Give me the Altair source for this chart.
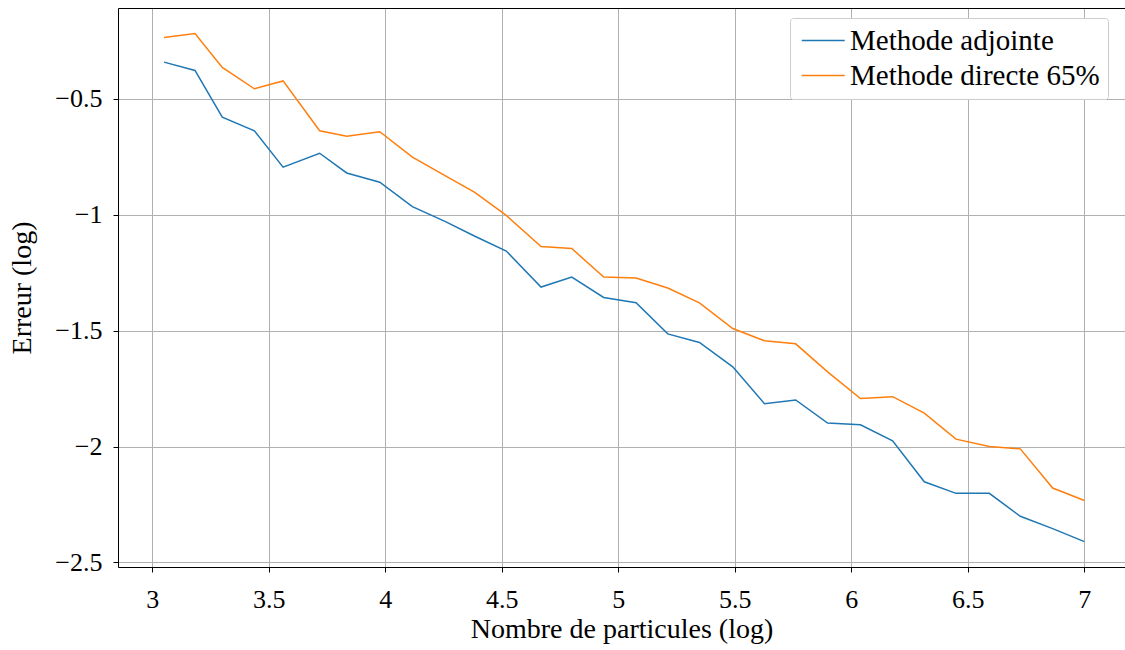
import altair as alt
import pandas as pd

x_vals = [3.050, 3.183, 3.300, 3.438, 3.561, 3.718, 3.834, 3.976, 4.116, 4.258,
          4.382, 4.519, 4.668, 4.800, 4.937, 5.076, 5.212, 5.348, 5.491, 5.627,
          5.761, 5.898, 6.039, 6.177, 6.313, 6.449, 6.592, 6.725, 6.864, 7.000]
adjointe = [-0.342, -0.378, -0.579, -0.638, -0.795, -0.735, -0.820, -0.860, -0.965, -1.030,
            -1.092, -1.157, -1.312, -1.269, -1.357, -1.380, -1.514, -1.551, -1.656, -1.815,
            -1.799, -1.899, -1.906, -1.975, -2.152, -2.202, -2.202, -2.301, -2.354, -2.410]
directe = [-0.236, -0.219, -0.365, -0.457, -0.423, -0.638, -0.662, -0.642, -0.752, -0.833,
           -0.903, -1.003, -1.137, -1.146, -1.269, -1.273, -1.316, -1.380, -1.491, -1.544,
           -1.557, -1.678, -1.793, -1.785, -1.856, -1.968, -2.000, -2.010, -2.179, -2.233]
series_names = ["Methode adjointe", "Methode directe 65%"]
series_colors = ["#1f77b4", "#ff7f0e"]
x_ticks = [3, 3.5, 4, 4.5, 5, 5.5, 6, 6.5, 7]
y_ticks = [-2.5, -2, -1.5, -1, -0.5]

rows = []
for i, xv in enumerate(x_vals):
    rows.append({"x": xv, "y": adjointe[i], "s": series_names[0], "o": i})
for i, xv in enumerate(x_vals):
    rows.append({"x": xv, "y": directe[i], "s": series_names[1], "o": i})
df = pd.DataFrame(rows)

W, H = 1007, 559
FONT = "Liberation Serif"
xscale = alt.Scale(domain=[2.8525, 2.8525 + W / 233.0], nice=False, zero=False)
yscale = alt.Scale(domain=[-2.5196, -0.1085], nice=False, zero=False)

lines = alt.Chart(df).mark_line(strokeWidth=1.5, clip=True).encode(
    x=alt.X("x:Q", scale=xscale,
            axis=alt.Axis(values=x_ticks, format="~g", title="Nombre de particules (log)",
                          labelPadding=14, titlePadding=3)),
    y=alt.Y("y:Q", scale=yscale,
            axis=alt.Axis(values=y_ticks, format="~g", title="Erreur (log)",
                          labelPadding=11, titlePadding=18)),
    color=alt.Color("s:N", scale=alt.Scale(domain=series_names, range=series_colors),
                    legend=alt.Legend(orient="none", legendX=672, legendY=10, title=None,
                                      symbolType="M-1,0H3", symbolSize=462,
                                      symbolStrokeWidth=1.5, labelOffset=23,
                                      labelFontSize=29, labelFont=FONT, labelLimit=600,
                                      strokeColor="#cccccc", fillColor="white",
                                      padding=8, cornerRadius=3, rowPadding=5)),
    order="o:Q",
)

top = alt.Chart(df).mark_point(opacity=0).encode(
    x=alt.X("x:Q", scale=xscale,
            axis=alt.Axis(orient="top", labels=False, ticks=False, grid=False, title=None)),
    y=alt.Y("y:Q", scale=yscale,
            axis=alt.Axis(orient="right", labels=False, ticks=False, grid=False,
                          title=None, domain=False)),
)

chart = alt.layer(lines, top).resolve_axis(x="independent", y="independent").properties(
    width=W, height=H, autosize="none",
    padding={"left": 118, "top": 8, "right": 0, "bottom": 83},
).configure_view(stroke=None).configure_axis(
    domainColor="black", domainWidth=1, tickColor="black", tickSize=5,
    gridColor="#b0b0b0", gridWidth=1, labelFont=FONT, labelFontSize=26,
    labelColor="black", titleFont=FONT, titleFontSize=28, titleFontWeight="normal",
    titleColor="black",
).configure_legend(labelColor="black")

chart.save("out.html", embed_options={"renderer": "svg", "actions": False})
